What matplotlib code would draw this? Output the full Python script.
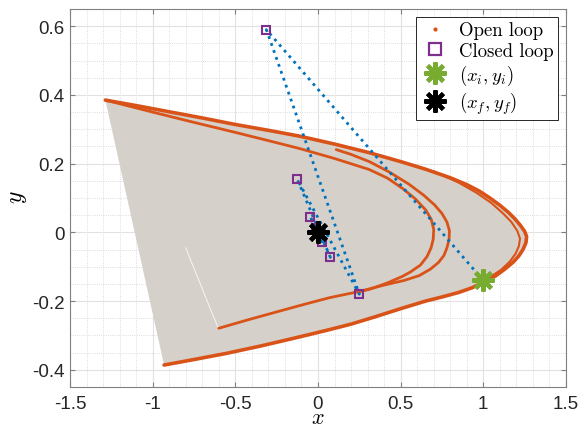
import numpy as np
import matplotlib
matplotlib.use('Agg')
import matplotlib.pyplot as plt
from matplotlib.lines import Line2D
from matplotlib.ticker import MultipleLocator

# open loop attractor, outer curve (top left tip -> right tip -> bottom left end)
outer_x = [-1.286, -1.1, -0.9, -0.7, -0.5, -0.3, -0.111, 0.1, 0.31, 0.5, 0.65, 0.8, 0.9,
           0.973, 1.04, 1.1, 1.15, 1.19, 1.225, 1.25, 1.262, 1.258, 1.24, 1.214, 1.18,
           1.13, 1.073, 1.0, 0.933, 0.85, 0.75, 0.65, 0.5, 0.35, 0.2, 0.069, -0.05,
           -0.172, -0.35, -0.553, -0.75, -0.931]
outer_y = [0.385, 0.369, 0.351, 0.333, 0.314, 0.297, 0.280, 0.257, 0.232, 0.206, 0.184,
           0.159, 0.139, 0.121, 0.1, 0.079, 0.059, 0.04, 0.02, 0.003, -0.012, -0.03,
           -0.05, -0.069, -0.087, -0.107, -0.127, -0.145, -0.161, -0.175, -0.188, -0.2,
           -0.222, -0.245, -0.267, -0.283, -0.297, -0.311, -0.331, -0.352, -0.37, -0.386]

# inner fold, tip near x = 0.70
inner_a_x = [-1.286, -1.0, -0.774, -0.5, -0.3, -0.111, 0.1, 0.31, 0.42, 0.511, 0.59, 0.652,
             0.685, 0.70, 0.697, 0.684, 0.66, 0.62, 0.56, 0.511, 0.42, 0.31, 0.2, 0.07,
             -0.08, -0.232, -0.42, -0.6]
inner_a_y = [0.385, 0.35, 0.323, 0.291, 0.267, 0.244, 0.215, 0.183, 0.158, 0.128, 0.097,
             0.065, 0.038, 0.009, -0.02, -0.045, -0.07, -0.095, -0.115, -0.128, -0.147,
             -0.166, -0.177, -0.19, -0.209, -0.229, -0.254, -0.279]

# second fold, tip near x = 0.80 (starts with the small hook under the band)
inner_b_x = [0.11, 0.2, 0.31, 0.43, 0.551, 0.64, 0.705, 0.75, 0.78, 0.795, 0.793, 0.78,
             0.762, 0.73, 0.68, 0.611, 0.52, 0.42, 0.33, 0.25]
inner_b_y = [0.241, 0.227, 0.206, 0.176, 0.14, 0.108, 0.08, 0.055, 0.03, 0.005, -0.02,
             -0.045, -0.067, -0.087, -0.107, -0.126, -0.14, -0.151, -0.162, -0.172]

# strand just inside the outer tip
strand_c_x = [0.7, 0.85, 0.96, 1.05, 1.12, 1.17, 1.205, 1.222, 1.215, 1.195, 1.16, 1.11,
              1.05, 0.99]
strand_c_y = [0.178, 0.145, 0.115, 0.085, 0.055, 0.03, 0.005, -0.018, -0.04, -0.062,
              -0.085, -0.108, -0.127, -0.143]

# thin light seam in the grey patch
seam_x = [-0.8, -0.605]
seam_y = [-0.045, -0.277]

# closed loop trajectory, starts at (x_i, y_i)
cl_x = [1.0, -0.312, 0.25, -0.125, 0.075, -0.047, 0.023, -0.01, 0.004, 0.0]
cl_y = [-0.14, 0.59, -0.18, 0.154, -0.073, 0.046, -0.027, 0.012, -0.005, 0.0]

xi, yi = 1.0, -0.14
xf, yf = 0.0, 0.0

xtick_vals = [-1.5, -1, -0.5, 0, 0.5, 1, 1.5]
xtick_labels = ['-1.5', '-1', '-0.5', '0', '0.5', '1', '1.5']
ytick_vals = [-0.4, -0.2, 0, 0.2, 0.4, 0.6]
ytick_labels = ['-0.4', '-0.2', '0', '0.2', '0.4', '0.6']

orange = '#d95319'
blue = '#0072bd'
purple = '#7e2f8e'
green = '#77ac30'
grey = '#d5d1ca'

plt.rcParams['mathtext.fontset'] = 'cm'
plt.rcParams['axes.unicode_minus'] = False

fig = plt.figure(figsize=(5.79, 4.27), dpi=100)
ax = fig.add_axes([0.1209, 0.0913, 0.8566, 0.8852])

ax.fill(outer_x, outer_y, color=grey, lw=0, zorder=1)
ax.plot(seam_x, seam_y, color='white', lw=0.7, alpha=0.8, zorder=1.5)

for cx, cy, lw in [(outer_x, outer_y, 2.6), (inner_a_x, inner_a_y, 2.0),
                   (inner_b_x, inner_b_y, 2.0), (strand_c_x, strand_c_y, 1.5)]:
    ax.plot(cx, cy, color=orange, lw=lw, solid_capstyle='round', solid_joinstyle='round', zorder=2)

ax.plot(cl_x, cl_y, ':', color=blue, lw=2.0, zorder=3)
ax.plot(cl_x[1:], cl_y[1:], 's', mfc='none', mec=purple, ms=6, mew=1.5, zorder=4)
h_i, = ax.plot([xi], [yi], ls='none', marker=(8, 2, 0), color=green, ms=16, mew=3, zorder=5)
h_f, = ax.plot([xf], [yf], ls='none', marker=(8, 2, 0), color='black', ms=16, mew=3, zorder=6)

h_open = Line2D([], [], ls='none', marker='.', color=orange, ms=4)
h_closed = Line2D([], [], ls='none', marker='s', mfc='none', mec=purple, ms=8, mew=1.6)

leg = ax.legend([h_open, h_closed, h_i, h_f],
                ['Open loop', 'Closed loop', r'$(x_i,y_i)$', r'$(x_f,y_f)$'],
                loc='upper right', prop={'family': 'cmr10', 'size': 13.5},
                fancybox=False, edgecolor='#262626', framealpha=1,
                borderaxespad=0.45, handlelength=1.6, labelspacing=0.15,
                handletextpad=0.5, borderpad=0.2)
leg.get_frame().set_linewidth(0.7)

ax.set_xlim(-1.5, 1.5)
ax.set_ylim(-0.45, 0.65)
ax.set_xticks(xtick_vals)
ax.set_xticklabels(xtick_labels)
ax.set_yticks(ytick_vals)
ax.set_yticklabels(ytick_labels)
ax.xaxis.set_minor_locator(MultipleLocator(0.1))
ax.yaxis.set_minor_locator(MultipleLocator(0.05))

ax.set_axisbelow(True)
ax.grid(which='major', color='#e2e2e2', lw=0.8)
ax.grid(which='minor', color='#d2d2d2', ls=':', lw=0.6)

for s in ax.spines.values():
    s.set_color('#808080')
    s.set_linewidth(0.8)
ax.tick_params(which='major', direction='in', length=3.6, top=True, right=True,
               color='#808080', labelcolor='#262626', labelsize=13.5)
ax.tick_params(which='minor', length=0)
ax.tick_params(axis='x', pad=5.5)
ax.tick_params(axis='y', pad=4)
for lab in ax.get_xticklabels() + ax.get_yticklabels():
    lab.set_family('Liberation Sans')

ax.set_xlabel('$x$', fontsize=16)
ax.set_ylabel('$y$', fontsize=17)
ax.xaxis.set_label_coords(0.5, -0.095)
ax.xaxis.label.set_verticalalignment('baseline')
ax.yaxis.set_label_coords(-0.107, 0.505)
ax.yaxis.label.set_verticalalignment('center')

fig.savefig('out.png', dpi=100)
